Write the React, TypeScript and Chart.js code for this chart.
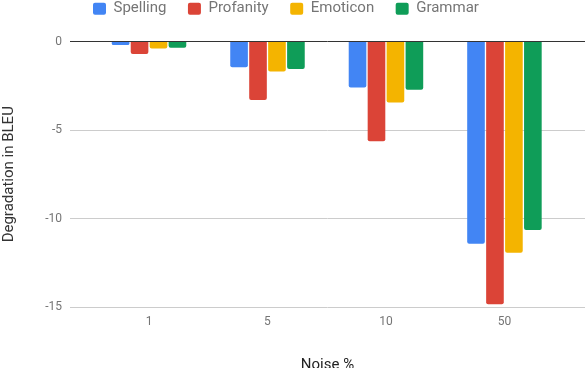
import React, { useEffect, useRef } from "react";
import { Chart, registerables } from "chart.js";

Chart.register(...registerables);

const categories = ["1", "5", "10", "50"];
const seriesNames = ["Spelling", "Profanity", "Emoticon", "Grammar"];
const spelling = [-0.2, -1.45, -2.6, -11.42];
const profanity = [-0.7, -3.3, -5.63, -14.85];
const emoticon = [-0.4, -1.7, -3.44, -11.93];
const grammar = [-0.35, -1.55, -2.73, -10.65];
const seriesColors = ["#4285F4", "#DB4437", "#F4B400", "#0F9D58"];
const yTicks = [0, -5, -10, -15];

const LEGEND_PAD = 21.5;

const legendShift = {
  id: "legendShift",
  afterLayout(chart: any) {
    const lg = chart.legend;
    if (!lg) return;
    const w = lg.width;
    lg.left = 93 - LEGEND_PAD;
    lg.right = lg.left + w;
    lg.top = 1.2 - LEGEND_PAD;
  },
};

export default function App() {
  const ref = useRef<HTMLCanvasElement | null>(null);
  useEffect(() => {
    document.body.style.margin = "0";
    const all = [spelling, profanity, emoticon, grammar];
    const chart = new Chart(ref.current!, {
      type: "bar",
      data: {
        datasets: all.map((vals, si) => ({
          label: seriesNames[si],
          data: vals.map((v, i) => ({ x: i, y: v })),
          backgroundColor: seriesColors[si],
          borderWidth: 0,
          borderRadius: 2,
          borderSkipped: "start",
          barPercentage: 0.93,
          categoryPercentage: 0.64,
        })),
      },
      plugins: [legendShift],
      options: {
        animation: false,
        responsive: true,
        maintainAspectRatio: false,
        layout: { padding: { top: -5, right: 1, left: 0, bottom: 0 } },
        plugins: {
          legend: {
            position: "top",
            align: "start",
            labels: {
              boxWidth: 13,
              boxHeight: 12,
              useBorderRadius: true,
              borderRadius: 2,
              padding: LEGEND_PAD,
              color: "#757575",
              font: { family: "Roboto", size: 15 },
            },
          },
          tooltip: { enabled: false },
        },
        scales: {
          x: {
            type: "linear",
            offset: false,
            min: -0.667,
            max: 3.68,
            grid: { display: false, drawTicks: false, offset: false },
            border: { display: false },
            afterBuildTicks: (scale: any) => {
              scale.ticks = categories.map((_, i) => ({ value: i }));
            },
            afterFit: (scale: any) => {
              scale.height = 61;
            },
            ticks: {
              padding: 8,
              color: "#757575",
              font: { family: "Roboto", size: 12 },
              maxRotation: 0,
              autoSkip: false,
              callback: (v: any) => categories[Number(v)] ?? "",
            },
            title: {
              display: true,
              text: "Noise %",
              color: "#222222",
              font: { family: "Roboto", size: 15 },
              padding: { top: 0, bottom: -6.5 },
            },
          },
          y: {
            min: -15,
            max: 0,
            border: { display: false },
            afterBuildTicks: (scale: any) => {
              scale.ticks = yTicks.map((v) => ({ value: v }));
            },
            afterFit: (scale: any) => {
              scale.width = 70;
            },
            grid: {
              drawTicks: false,
              color: (ctx: any) => (ctx.tick && ctx.tick.value === 0 ? "#333333" : "#CCCCCC"),
              lineWidth: 1,
            },
            ticks: {
              padding: 8,
              color: "#757575",
              font: { family: "Roboto", size: 12 },
            },
            title: {
              display: true,
              text: "Degradation in BLEU",
              color: "#333333",
              font: { family: "Roboto", size: 15 },
              padding: 0,
            },
          },
        },
      },
    });
    return () => chart.destroy();
  }, []);
  return (
    <div style={{ position: "absolute", left: 0, top: 0, width: 586, height: 368 }}>
      <canvas ref={ref} />
    </div>
  );
}
